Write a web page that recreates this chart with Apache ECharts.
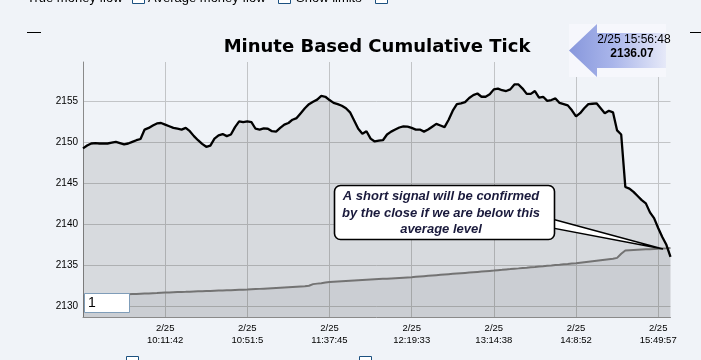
<!DOCTYPE html>
<html>
<head>
<meta charset="utf-8">
<script src="https://cdn.jsdelivr.net/npm/echarts@6/dist/echarts.min.js"></script>
<style>
html,body{margin:0;padding:0;background:#f0f3f8;}
#c{width:701px;height:360px;}
</style>
</head>
<body>
<div id="c"></div>
<script>
// ---- data ----
var titleText = 'Minute Based Cumulative Tick';
var tickLabels = ['2/25\n10:11:42','2/25\n10:51:5','2/25\n11:37:45','2/25\n12:19:33','2/25\n13:14:38','2/25\n14:8:52','2/25\n15:49:57'];
var yTickValues = [2130, 2135, 2140, 2145, 2150, 2155];
var cumulativeTick = [
2149.3,2149.65,2149.9,2149.95,2149.9,2149.9,2149.9,2150.0,2150.1,2149.95,
2149.8,2149.9,2150.1,2150.3,2150.45,2151.6,2151.8,2152.1,2152.35,2152.4,
2152.2,2152.0,2151.8,2151.7,2151.6,2151.8,2151.4,2150.8,2150.3,2149.85,
2149.5,2149.65,2150.5,2150.9,2151.05,2150.8,2151.0,2151.9,2152.6,2152.5,
2152.6,2152.5,2151.7,2151.6,2151.75,2151.7,2151.4,2151.35,2151.8,2152.2,
2152.4,2152.8,2153.0,2153.6,2154.2,2154.7,2155.0,2155.25,2155.7,2155.6,
2155.2,2154.85,2154.7,2154.5,2154.2,2153.7,2152.7,2151.7,2151.1,2151.4,
2150.5,2150.15,2150.25,2150.3,2151.0,2151.35,2151.6,2151.85,2152.0,2151.95,
2151.8,2151.6,2151.6,2151.35,2151.6,2151.95,2152.3,2152.1,2151.9,2152.8,
2153.9,2154.7,2154.8,2154.95,2155.45,2155.8,2156.0,2155.6,2155.6,2155.9,
2156.5,2156.6,2156.4,2156.3,2156.5,2157.1,2157.1,2156.6,2155.95,2155.95,
2156.3,2155.5,2155.6,2155.1,2155.2,2155.4,2154.85,2154.7,2154.55,2153.95,
2153.2,2153.6,2154.2,2154.7,2154.75,2154.8,2154.2,2153.6,2153.9,2153.7,
2151.5,2151.0,2144.6,2144.4,2144.0,2143.5,2143.0,2142.6,2141.5,2140.8,
2139.6,2138.5,2137.55,2136.07
];
var averageLevel = [
2131.30,2131.32,2131.34,2131.36,2131.38,2131.40,2131.42,2131.44,2131.46,2131.48,
2131.50,2131.52,2131.54,2131.56,2131.58,2131.60,2131.62,2131.65,2131.67,2131.70,
2131.72,2131.74,2131.76,2131.78,2131.80,2131.81,2131.83,2131.85,2131.87,2131.88,
2131.90,2131.92,2131.94,2131.96,2131.97,2131.99,2132.01,2132.03,2132.05,2132.06,
2132.08,2132.11,2132.14,2132.17,2132.20,2132.23,2132.26,2132.29,2132.32,2132.35,
2132.38,2132.41,2132.44,2132.47,2132.50,2132.55,2132.75,2132.81,2132.87,2132.94,
2133.00,2133.03,2133.06,2133.09,2133.12,2133.15,2133.18,2133.21,2133.24,2133.27,
2133.30,2133.33,2133.36,2133.39,2133.42,2133.45,2133.48,2133.51,2133.54,2133.57,
2133.60,2133.64,2133.68,2133.72,2133.76,2133.80,2133.84,2133.88,2133.92,2133.96,
2134.00,2134.04,2134.08,2134.12,2134.16,2134.20,2134.24,2134.28,2134.32,2134.36,
2134.40,2134.45,2134.49,2134.54,2134.58,2134.63,2134.67,2134.72,2134.76,2134.81,
2134.85,2134.90,2134.94,2134.99,2135.03,2135.08,2135.12,2135.17,2135.21,2135.26,
2135.30,2135.36,2135.42,2135.48,2135.54,2135.60,2135.66,2135.72,2135.78,2135.84,
2135.95,2136.45,2136.85,2136.88,2136.91,2136.94,2136.97,2136.99,2137.01,2137.03,
2137.05,2137.08,2137.11,2137.15
];
var lastTime = '2/25 15:56:48';
var lastValue = '2136.07';
var calloutText = 'A short signal will be confirmed\nby the close if we are below this\naverage level';
var topControls = ['True money flow', 'Average money flow', 'Show limits'];
var inputValue = '1';
var labelEvery = 20;

var categories = cumulativeTick.map(function (_, i) { return String(i); });

var chart = echarts.init(document.getElementById('c'), null, {renderer: 'canvas'});
var isTick = function (idx) { return idx > 0 && idx % labelEvery === 0; };

var option = {
  backgroundColor: '#f0f3f8',
  animation: false,
  grid: {left: 83, right: 30.5, top: 62, bottom: 43},
  xAxis: {
    type: 'category',
    data: categories,
    boundaryGap: false,
    axisLine: {show: true, lineStyle: {color: '#8a8a8a', width: 1}},
    axisTick: {show: false},
    axisLabel: {
      interval: function (idx) { return isTick(idx); },
      formatter: function (v, idx) { return tickLabels[idx / labelEvery - 1] || ''; },
      fontFamily: 'Liberation Sans', fontSize: 9.5, color: '#000', lineHeight: 12, margin: 5
    },
    splitLine: {show: true, interval: function (idx) { return isTick(idx); }, lineStyle: {color: '#c2c4c7', width: 1}}
  },
  yAxis: {
    type: 'value',
    min: 2128.74, max: 2159.84,
    axisLine: {show: true, lineStyle: {color: '#8a8a8a', width: 1}},
    axisTick: {show: false, customValues: yTickValues},
    axisLabel: {customValues: yTickValues, formatter: function (v) { return String(v); }, fontFamily: 'Liberation Sans', fontSize: 10, color: '#000', margin: 5},
    splitLine: {show: true, customValues: yTickValues, lineStyle: {color: '#c2c4c7', width: 1}}
  },
  series: [
    {
      type: 'line', name: 'Cumulative Tick', data: cumulativeTick, symbol: 'none',
      lineStyle: {color: '#000', width: 2.3}, areaStyle: {color: 'rgba(0,0,0,0.145)'}, z: 3
    },
    {
      type: 'line', name: 'Average', data: averageLevel, symbol: 'none',
      lineStyle: {color: '#808080', width: 2}, areaStyle: {color: 'rgba(0,0,0,0.075)'}, z: 2
    }
  ],
  graphic: [
    // title
    {type: 'text', x: 377, y: 47, z: 10, style: {text: titleText, font: 'bold 18px "DejaVu Sans"', fill: '#000', textAlign: 'center', textVerticalAlign: 'middle'}},
    // cut top controls
    {type: 'text', x: 27, y: 4.5, style: {text: topControls[0], font: '13px "Liberation Sans"', fill: '#000', textVerticalAlign: 'bottom'}},
    {type: 'rect', shape: {x: 132.5, y: -8.5, width: 12, height: 12}, style: {fill: '#fff', stroke: '#1c5180', lineWidth: 1}},
    {type: 'text', x: 148, y: 4.5, style: {text: topControls[1], font: '13px "Liberation Sans"', fill: '#000', textVerticalAlign: 'bottom'}},
    {type: 'rect', shape: {x: 278.5, y: -8.5, width: 12, height: 12}, style: {fill: '#fff', stroke: '#1c5180', lineWidth: 1}},
    {type: 'text', x: 296, y: 4.5, style: {text: topControls[2], font: '13px "Liberation Sans"', fill: '#000', textVerticalAlign: 'bottom'}},
    {type: 'rect', shape: {x: 375.5, y: -8.5, width: 12, height: 12}, style: {fill: '#fff', stroke: '#1c5180', lineWidth: 1}},
    // small dashes
    {type: 'line', shape: {x1: 27, y1: 32.5, x2: 41, y2: 32.5}, style: {stroke: '#000', lineWidth: 1}},
    {type: 'line', shape: {x1: 690, y1: 32.5, x2: 701, y2: 32.5}, style: {stroke: '#000', lineWidth: 1}},
    // bottom checkboxes
    {type: 'rect', shape: {x: 126.5, y: 356.5, width: 12, height: 12}, style: {fill: '#fff', stroke: '#1c5180', lineWidth: 1}},
    {type: 'rect', shape: {x: 359.5, y: 356.5, width: 12, height: 12}, style: {fill: '#fff', stroke: '#1c5180', lineWidth: 1}},
    // arrow with last value
    {type: 'rect', z: 10, shape: {x: 569, y: 24, width: 97, height: 53}, style: {fill: '#f6f7fc'}},
    {type: 'polygon', z: 11, shape: {points: [[569, 50.5], [597, 24], [597, 33], [666, 33], [666, 68], [597, 68], [597, 77]]},
      style: {fill: {type: 'linear', x: 0, y: 0, x2: 1, y2: 0, colorStops: [{offset: 0, color: '#8797dc'}, {offset: 0.45, color: '#a9b5ea'}, {offset: 1, color: '#e6e9f8'}]}}},
    {type: 'text', z: 12, x: 634, y: 40, style: {text: lastTime, font: '12px "Liberation Sans"', fill: '#000', textAlign: 'center', textVerticalAlign: 'middle'}},
    {type: 'text', z: 12, x: 632, y: 54, style: {text: lastValue, font: 'bold 12px "Liberation Sans"', fill: '#000', textAlign: 'center', textVerticalAlign: 'middle'}},
    // callout
    {type: 'polygon', z: 10, shape: {points: [[552, 219], [663, 249], [552, 228]]}, style: {fill: '#fff', stroke: '#000', lineWidth: 1.3}},
    {type: 'rect', z: 11, shape: {x: 334.5, y: 185.5, width: 220, height: 54, r: 6}, style: {fill: '#fff', stroke: '#000', lineWidth: 1.6}},
    {type: 'text', z: 12, x: 441, y: 213, style: {text: calloutText, font: 'italic bold 13px "Liberation Sans"', fill: '#1a1a3c', textAlign: 'center', textVerticalAlign: 'middle', lineHeight: 16.5}},
    // input box
    {type: 'rect', z: 10, shape: {x: 84.5, y: 293.5, width: 45, height: 19}, style: {fill: '#fff', stroke: '#7f9db9', lineWidth: 1}},
    {type: 'text', z: 11, x: 88, y: 303, style: {text: inputValue, font: '14px "Liberation Sans"', fill: '#000', textVerticalAlign: 'middle'}}
  ]
};
chart.setOption(option);
</script>
</body>
</html>
